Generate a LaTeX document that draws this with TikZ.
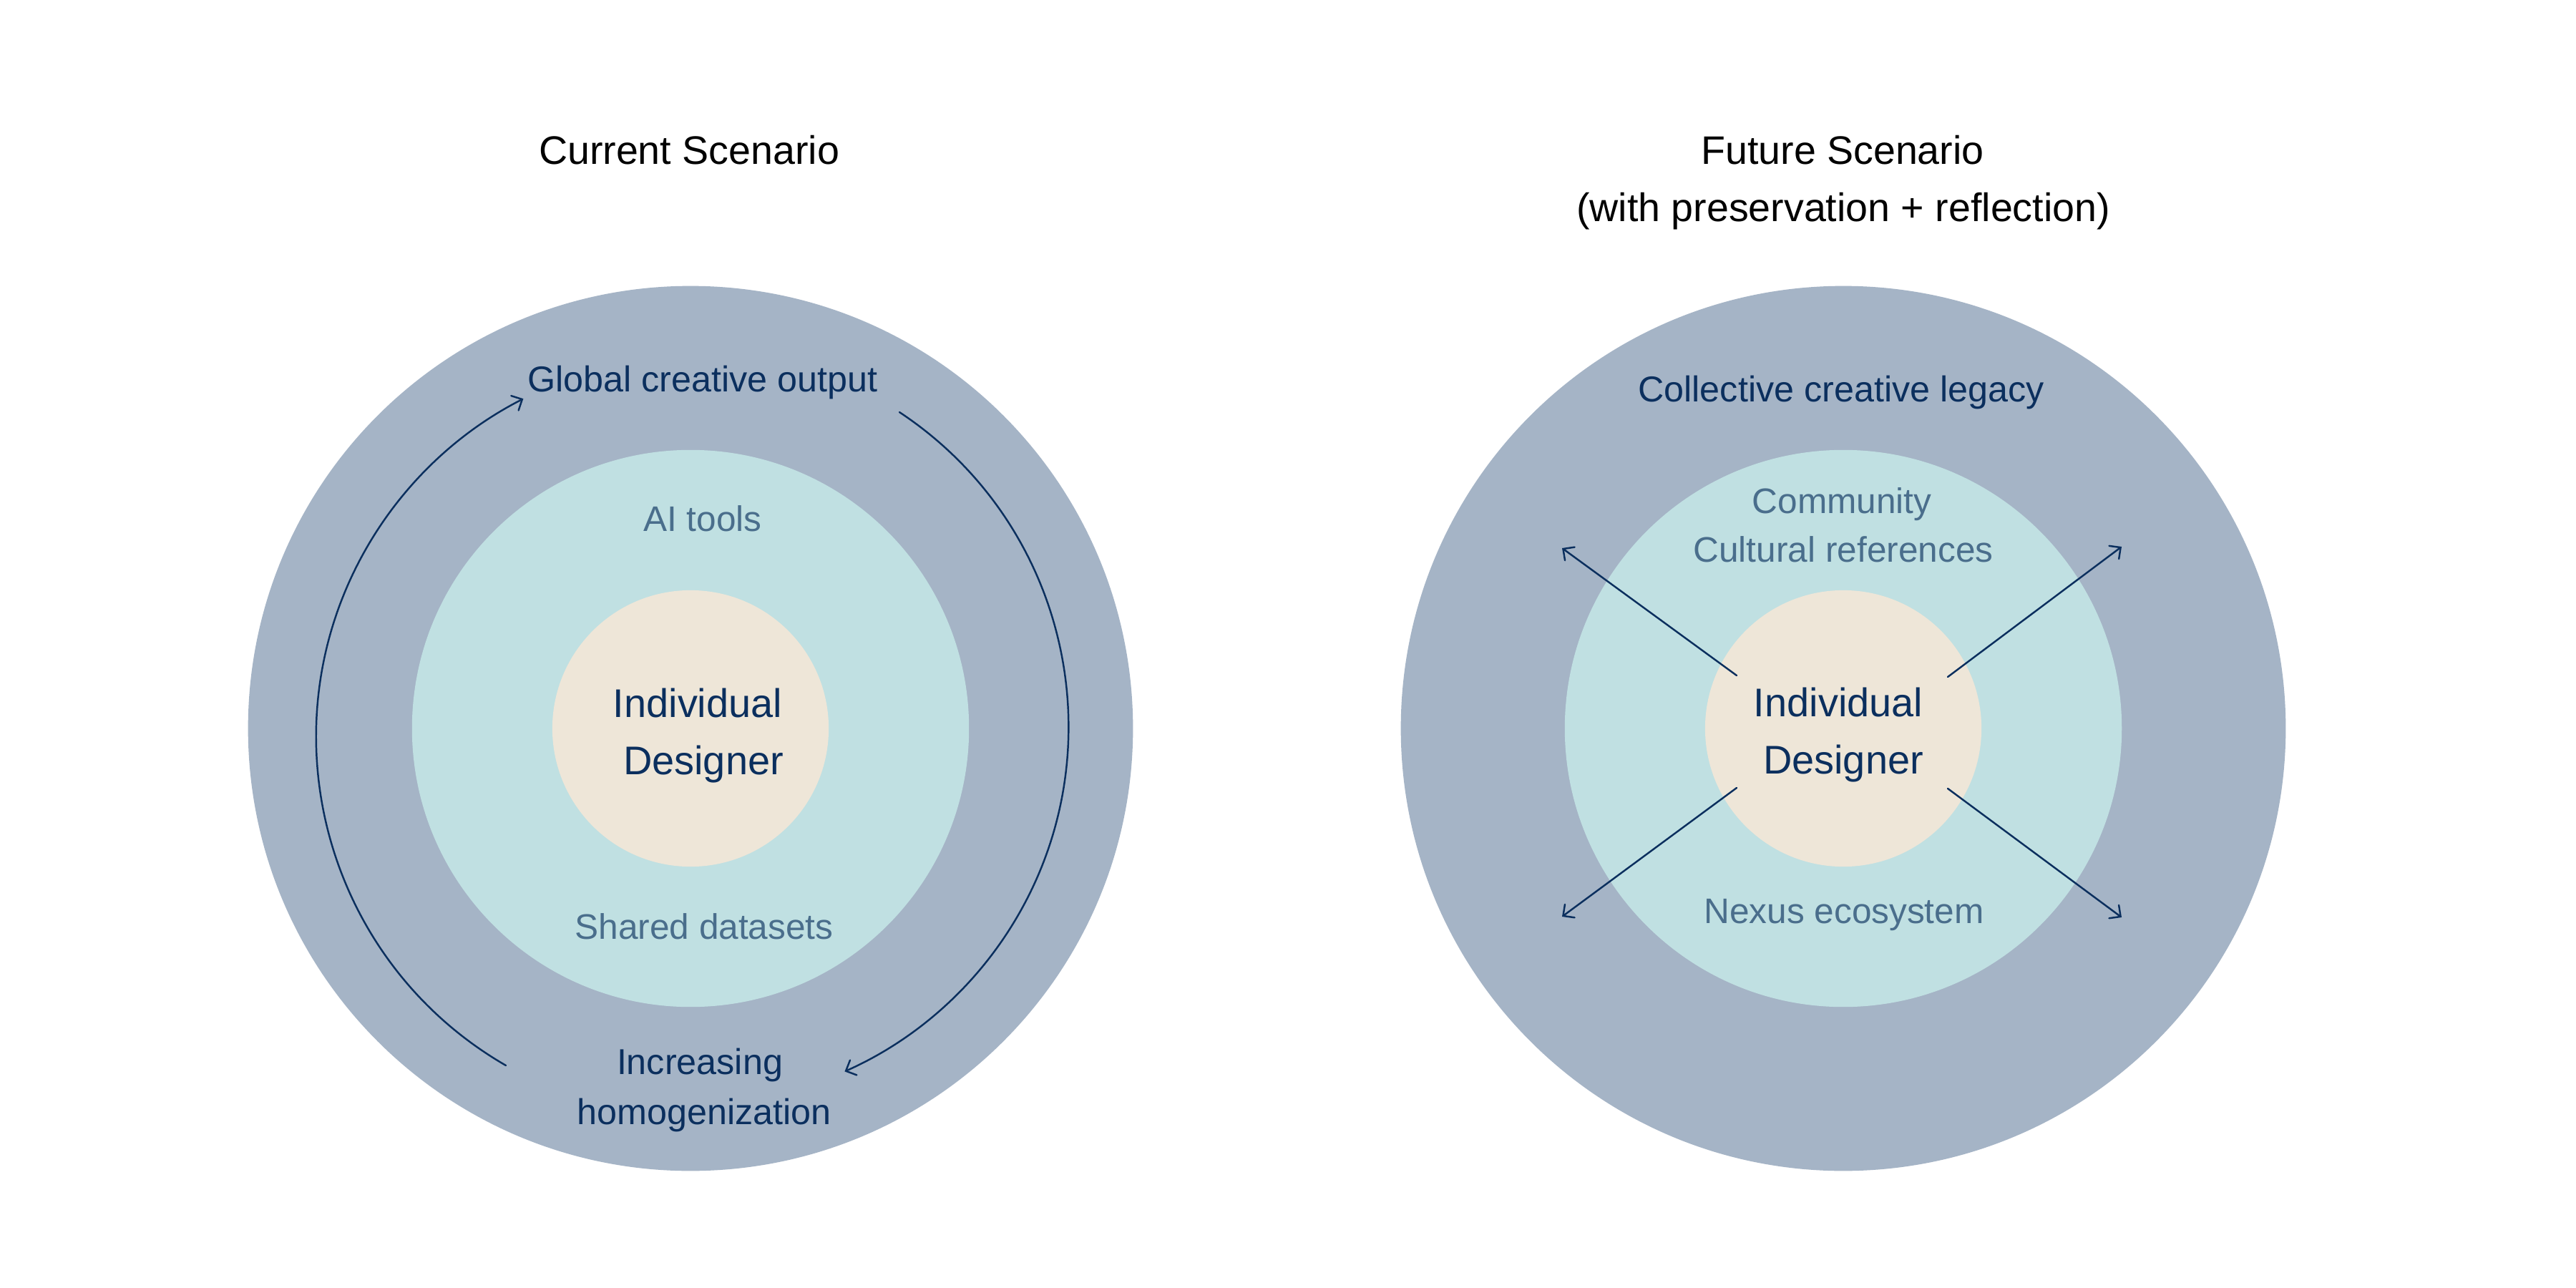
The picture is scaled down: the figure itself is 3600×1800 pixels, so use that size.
\documentclass[tikz,border=0pt]{standalone}
\usepackage{fontspec}
\setmainfont{Liberation Sans}
\usetikzlibrary{arrows.meta}
\definecolor{ringout}{HTML}{A5B4C6}
\definecolor{ringmid}{HTML}{C0E0E2}
\definecolor{ringin}{HTML}{EEE6D8}
\definecolor{navy}{HTML}{0B2F5E}
\definecolor{slate}{HTML}{4A6E8C}
\begin{document}
\begin{tikzpicture}[x=0.01cm,y=-0.01cm,
 ring/.style={circle, inner sep=0pt, draw=none},
 titlelbl/.style={font=\fontsize{15.8}{19}\selectfont, text=black, anchor=base, inner sep=0pt},
 corelbl/.style={font=\fontsize{15.9}{19}\selectfont, text=navy, anchor=base, inner sep=0pt},
 outerlbl/.style={font=\fontsize{14.3}{17}\selectfont, text=navy, anchor=base, inner sep=0pt},
 midlbl/.style={font=\fontsize{14.1}{17}\selectfont, text=slate, anchor=base, inner sep=0pt},
 flow/.style={draw=navy, line width=0.7pt, line cap=round, -{Straight Barb[length=3.3pt,width=6.5pt,line cap=round]}}]
\useasboundingbox (0,0) rectangle (3600,1800);
\fill[white] (0,0) rectangle (3600,1800);

% ---------- left: current scenario ----------
\node[ring, fill=ringout, minimum size=12.36cm] (Lout) at (965,1018) {};
\node[ring, fill=ringmid, minimum size=7.78cm] (Lmid) at (965,1018) {};
\node[ring, fill=ringin, minimum size=3.86cm] (Lin) at (965,1018) {};

\node[titlelbl] (Ltitle) at (963,229) {Current Scenario};
\node[outerlbl] (Lglobal) at (982,547) {Global creative output};
\node[midlbl] (Ltools) at (982,742) {AI tools};
\node[corelbl] (Lind) at (975,1002) {Individual};
\node[corelbl] (Ldes) at (983,1082) {Designer};
\node[midlbl] (Lshared) at (984,1312) {Shared datasets};
\node[outerlbl] (Linc) at (978,1501) {Increasing};
\node[outerlbl] (Lhom) at (984,1571) {homogenization};

\coordinate (la0) at (707,1489);
\coordinate (ra0) at (1257,576);
\draw[flow] (la0) arc[start angle=240, end angle=117, radius=5.3cm];
\draw[flow] (ra0) arc[start angle=56.5, end angle=-66, radius=5.27cm];

% ---------- right: future scenario ----------
\node[ring, fill=ringout, minimum size=12.36cm] (Rout) at (2576,1018) {};
\node[ring, fill=ringmid, minimum size=7.78cm] (Rmid) at (2576,1018) {};
\node[ring, fill=ringin, minimum size=3.86cm] (Rin) at (2576,1018) {};

\node[titlelbl] (Rtitle) at (2575,229) {Future Scenario};
\node[titlelbl] (Rsub) at (2576,309) {(with preservation + reflection)};
\node[outerlbl] (Rlegacy) at (2573,561) {Collective creative legacy};
\node[midlbl] (Rcomm) at (2574,717) {Community};
\node[midlbl] (Rcult) at (2576,785) {Cultural references};
\node[corelbl] (Rind) at (2569,1001) {Individual};
\node[corelbl] (Rdes) at (2576,1081) {Designer};
\node[midlbl] (Rnexus) at (2577,1290) {Nexus ecosystem};

\coordinate (ul0) at (2427,944);  \coordinate (ul1) at (2183,766);
\coordinate (ur0) at (2722,946);  \coordinate (ur1) at (2965,764);
\coordinate (dl0) at (2427,1101); \coordinate (dl1) at (2183,1281);
\coordinate (dr0) at (2722,1102); \coordinate (dr1) at (2965,1282);
\draw[flow] (ul0) -- (ul1);
\draw[flow] (ur0) -- (ur1);
\draw[flow] (dl0) -- (dl1);
\draw[flow] (dr0) -- (dr1);
\end{tikzpicture}
\end{document}
